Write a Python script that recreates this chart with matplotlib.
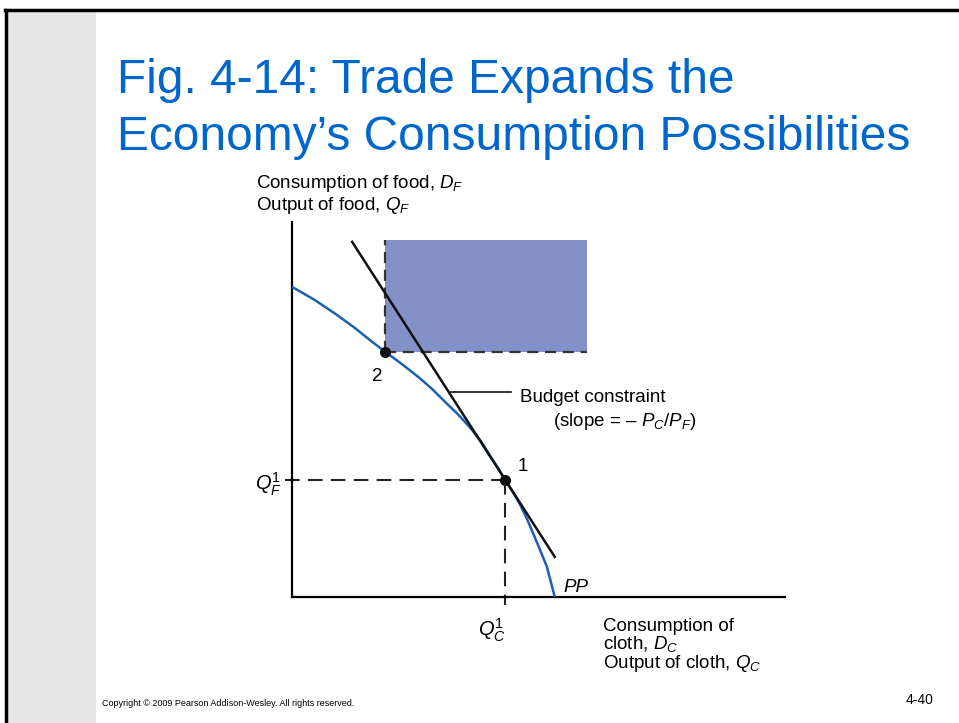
import numpy as np
import matplotlib
matplotlib.use('Agg')
import matplotlib.pyplot as plt
from matplotlib.patches import Rectangle

plt.rcParams['font.family'] = ['Liberation Sans', 'DejaVu Sans']
plt.rcParams['mathtext.fontset'] = 'custom'
plt.rcParams['mathtext.rm'] = 'Liberation Sans'
plt.rcParams['mathtext.it'] = 'Liberation Sans:italic'

# Production possibility frontier PP (cloth, food)
pp_cloth = [0.0, 4.5, 8.7, 12.5, 16.2, 18.9, 22.3, 25.6, 28.4, 31.0, 33.6, 36.1, 38.3,
            40.2, 41.8, 43.2, 44.8, 46.2, 47.6, 48.9, 50.3, 51.7, 53.3]
pp_food = [82.7, 79.3, 75.6, 72.0, 68.1, 65.4, 62.1, 58.7, 55.5, 52.1, 48.8, 45.2, 41.6,
           37.6, 34.4, 31.2, 28.0, 24.8, 21.0, 17.0, 12.6, 8.1, 0.0]

# Budget constraint end points
budget_cloth = [12.2, 53.3]
budget_food = [94.7, 10.7]

# Production point 1 and consumption point 2
point1 = (43.2, 31.2)
point2 = (18.9, 65.4)

# Expanded consumption region (shaded)
region_cloth = [18.9, 59.8]
region_food = [65.4, 95.2]

W, H = 959, 723
fig = plt.figure(figsize=(W / 100, H / 100), dpi=100)
fig.patch.set_facecolor('white')

# slide decoration: marble strip and frame
fig.patches.append(Rectangle((8 / W, 0), 88 / W, 1 - 10 / H, transform=fig.transFigure,
                             facecolor='#e6e6e6', edgecolor='none', zorder=0))
fig.add_artist(plt.Line2D([5 / W, 1], [1 - 10 / H, 1 - 10 / H], color='black', lw=2.5,
                          transform=fig.transFigure))
fig.add_artist(plt.Line2D([6 / W, 6 / W], [0, 1 - 10 / H], color='black', lw=2.5,
                          transform=fig.transFigure))

fig.text(117 / W, 1 - 93 / H, 'Fig. 4-14: Trade Expands the', color='#0066cc',
         fontsize=34.5, va='baseline', ha='left')
fig.text(117 / W, 1 - 150 / H, 'Economy\u2019s Consumption Possibilities', color='#0066cc',
         fontsize=34.5, va='baseline', ha='left')

ax = fig.add_axes([292 / W, (H - 597) / H, 493 / W, 375 / H])
ax.set_xlim(0, 100)
ax.set_ylim(0, 100)
ax.set_facecolor('none')
for s in ['top', 'right']:
    ax.spines[s].set_visible(False)
for s in ['left', 'bottom']:
    ax.spines[s].set_linewidth(1.6)
ax.set_xticks([])
ax.set_yticks([])

ax.add_patch(Rectangle((region_cloth[0], region_food[0]), region_cloth[1] - region_cloth[0],
                       region_food[1] - region_food[0], facecolor='#8391c8', edgecolor='none',
                       zorder=1))
ax.plot([region_cloth[0], region_cloth[0]], region_food, color='#333333', lw=1.6,
        dashes=(5, 3), zorder=2)
ax.plot(region_cloth, [region_food[0], region_food[0]], color='#333333', lw=1.6,
        dashes=(5, 3), zorder=2)

ax.plot(pp_cloth, pp_food, color='#1f5fb0', lw=1.8, zorder=3, solid_capstyle='butt',
        solid_joinstyle='round')
ax.plot(budget_cloth, budget_food, color='#111111', lw=1.8, zorder=4)

# dashed guides to point 1
ax.plot([-1.5, point1[0]], [point1[1], point1[1]], color='#222222', lw=1.5,
        dashes=(7, 4), clip_on=False, zorder=2)
ax.plot([point1[0], point1[0]], [point1[1], -2.2], color='#222222', lw=1.5,
        dashes=(7, 4), clip_on=False, zorder=2)

ax.plot(*point1, 'o', color='#111111', ms=7, zorder=5)
ax.plot(*point2, 'o', color='#111111', ms=7, zorder=5)

# leader line to budget label
ax.plot([32.3, 44.5], [54.7, 54.7], color='#111111', lw=1.2)

fs = 13.5
ax.text(-7.3, 110.4, 'Consumption of food, $D_F$', fontsize=fs, va='center', ha='left',
        clip_on=False)
ax.text(-7.3, 104.5, 'Output of food, $Q_F$', fontsize=fs, va='center', ha='left',
        clip_on=False)
ax.text(17.2, 58.9, '2', fontsize=fs, va='center', ha='center')
ax.text(46.9, 34.9, '1', fontsize=fs, va='center', ha='center')
ax.text(46.2, 53.3, 'Budget constraint', fontsize=fs, va='center', ha='left')
ax.text(52.9, 46.7, '(slope = \u2013 $P_C/P_F$)', fontsize=fs, va='center', ha='left')
ax.text(55.0, 0.3, 'PP', fontsize=fs, style='italic', va='bottom', ha='left')
ax.text(-2.0, 30.0, '$Q_F^1$', fontsize=fs + 1, va='center', ha='right', clip_on=False)
ax.text(40.6, -8.8, '$Q_C^1$', fontsize=fs + 1, va='center', ha='center', clip_on=False)
ax.text(63.0, -5.6, 'Consumption of\ncloth, $D_C$\nOutput of cloth, $Q_C$', fontsize=fs,
        va='top', ha='left', linespacing=0.95, clip_on=False)

fig.text(102 / W, 1 - 703 / H, 'Copyright \u00a9 2009 Pearson Addison-Wesley. All rights reserved.',
         fontsize=6.5, va='center', ha='left')
fig.text(933 / W, 1 - 700 / H, '4-40', fontsize=10, va='center', ha='right')

fig.savefig('out.png', dpi=100)
